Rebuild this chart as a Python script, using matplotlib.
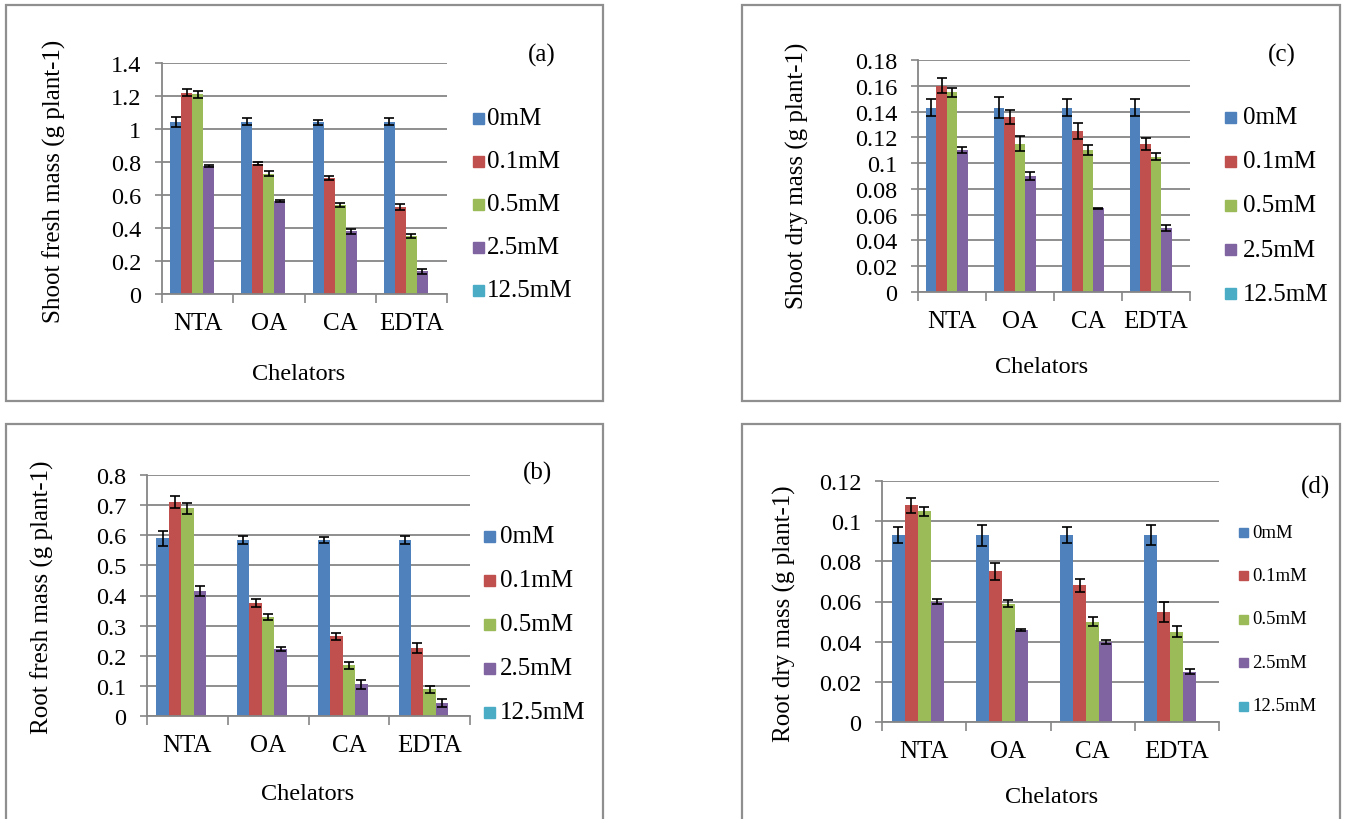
import numpy as np
import matplotlib
matplotlib.use('Agg')
import matplotlib.pyplot as plt
from matplotlib.patches import Rectangle

plt.rcParams['font.family'] = ['Liberation Serif', 'DejaVu Serif']

# Datos
chelators = ['NTA', 'OA', 'CA', 'EDTA']
levels = ['0mM', '0.1mM', '0.5mM', '2.5mM', '12.5mM']
colors = ['#4F81BD', '#C0504D', '#9BBB59', '#8064A2', '#4BACC6']

# una lista por concentracion, valores en orden NTA, OA, CA, EDTA
shoot_fresh = [
    [1.045, 1.045, 1.04, 1.045],
    [1.22, 0.79, 0.705, 0.53],
    [1.21, 0.73, 0.54, 0.35],
    [0.775, 0.563, 0.38, 0.137],
    [0, 0, 0, 0],
]
shoot_fresh_err = [
    [0.03, 0.02, 0.013, 0.02],
    [0.022, 0.011, 0.013, 0.018],
    [0.02, 0.013, 0.012, 0.013],
    [0.006, 0.005, 0.014, 0.015],
    [0, 0, 0, 0],
]

shoot_dry = [
    [0.143, 0.143, 0.143, 0.143],
    [0.160, 0.136, 0.125, 0.115],
    [0.155, 0.115, 0.110, 0.105],
    [0.110, 0.090, 0.065, 0.050],
    [0, 0, 0, 0],
]
shoot_dry_err = [
    [0.0067, 0.008, 0.0067, 0.0067],
    [0.0058, 0.0054, 0.006, 0.0048],
    [0.0035, 0.0058, 0.004, 0.0026],
    [0.0022, 0.003, 0.0005, 0.0023],
    [0, 0, 0, 0],
]

root_fresh = [
    [0.59, 0.585, 0.585, 0.585],
    [0.71, 0.375, 0.265, 0.225],
    [0.69, 0.328, 0.168, 0.088],
    [0.415, 0.222, 0.105, 0.043],
    [0, 0, 0, 0],
]
root_fresh_err = [
    [0.025, 0.014, 0.01, 0.014],
    [0.019, 0.012, 0.012, 0.016],
    [0.018, 0.01, 0.011, 0.011],
    [0.015, 0.007, 0.014, 0.012],
    [0, 0, 0, 0],
]

root_dry = [
    [0.093, 0.093, 0.093, 0.093],
    [0.108, 0.075, 0.068, 0.055],
    [0.105, 0.059, 0.050, 0.045],
    [0.060, 0.046, 0.040, 0.025],
    [0, 0, 0, 0],
]
root_dry_err = [
    [0.004, 0.0052, 0.004, 0.005],
    [0.0037, 0.0043, 0.0032, 0.005],
    [0.0023, 0.0019, 0.0022, 0.0027],
    [0.0012, 0.0005, 0.001, 0.0013],
    [0, 0, 0, 0],
]

W, H = 1346, 820
GRAY = '#868686'
FS = 17.5

# posiciones en pixeles (izq, der, arriba, abajo) de cada panel
panels = [
    dict(vals=shoot_fresh, errs=shoot_fresh_err, ymax=1.4, step=0.2,
         ylabel='Shoot fresh mass (g plant-1)', tag='(a)',
         box=(162, 447, 64, 295), ylab=(54, 181), xlab=(299, 375), tagpos=(542, 55),
         leg=(473, 487, 119, 43, 11, 18), frame=(6, 603, 6, 402)),
    dict(vals=shoot_dry, errs=shoot_dry_err, ymax=0.18, step=0.02,
         ylabel='Shoot dry mass (g plant-1)', tag='(c)',
         box=(918, 1190, 61, 293), ylab=(797, 176), xlab=(1042, 368), tagpos=(1282, 55),
         leg=(1225, 1243, 118, 44.2, 11, 18), frame=(742, 1340, 6, 402)),
    dict(vals=root_fresh, errs=root_fresh_err, ymax=0.8, step=0.1,
         ylabel='Root fresh mass (g plant-1)', tag='(b)',
         box=(147, 470, 476, 717), ylab=(42, 597), xlab=(308, 795), tagpos=(537, 473),
         leg=(484, 500, 537, 44, 11, 18), frame=(6, 603, 425, 830)),
    dict(vals=root_dry, errs=root_dry_err, ymax=0.12, step=0.02,
         ylabel='Root dry mass (g plant-1)', tag='(d)',
         box=(882, 1219, 482, 723), ylab=(784, 614), xlab=(1052, 798), tagpos=(1315, 487),
         leg=(1239, 1252, 533, 43.5, 9, 13.5), frame=(742, 1340, 425, 830)),
]


def fx(x):
    return x / W


def fy(y):
    return 1 - y / H


fig = plt.figure(figsize=(W / 100, H / 100), dpi=100)

nser = len(levels)
w = 1 / 6.5
xc = np.arange(len(chelators))

for p in panels:
    # marco del grafico
    x0, x1, y0, y1 = p['frame']
    fig.add_artist(Rectangle((fx(x0), fy(y1)), fx(x1 - x0), (y1 - y0) / H,
                             transform=fig.transFigure, fill=False,
                             edgecolor='#8f8f8f', lw=1.6))

    l, r, t, b = p['box']
    ax = fig.add_axes([fx(l), fy(b), fx(r - l), (b - t) / H])

    for j in range(nser):
        xs = xc + (j - (nser - 1) / 2) * w
        ax.bar(xs, p['vals'][j], width=w, color=colors[j], zorder=2)
        if max(p['vals'][j]) > 0:
            ax.errorbar(xs, p['vals'][j], yerr=p['errs'][j], fmt='none',
                        ecolor='black', elinewidth=1.2, capsize=3.8,
                        capthick=1.2, zorder=3)

    ax.set_xlim(-0.5, len(chelators) - 0.5)
    ax.set_ylim(0, p['ymax'])
    yt = np.round(np.arange(0, p['ymax'] + p['step'] / 2, p['step']), 4)
    ax.set_yticks(yt)
    ax.set_yticklabels([f'{v:g}' for v in yt], fontsize=FS)
    ax.yaxis.grid(True, color=GRAY, lw=1.3, zorder=0)
    ax.set_axisbelow(True)

    ax.set_xticks(np.arange(-0.5, len(chelators), 1.0))
    ax.set_xticklabels([])
    ax.set_xticks(xc, minor=True)
    ax.set_xticklabels(chelators, minor=True, fontsize=18)
    ax.tick_params(axis='x', which='major', length=6.5, width=1.2, color=GRAY)
    ax.tick_params(axis='x', which='minor', length=0, pad=13)
    ax.tick_params(axis='y', length=5, width=1.2, color=GRAY, pad=10)

    for s in ['top', 'right']:
        ax.spines[s].set_visible(False)
    for s in ['left', 'bottom']:
        ax.spines[s].set_color(GRAY)
        ax.spines[s].set_linewidth(1.3)

    # titulos de ejes y etiqueta del panel
    fig.text(fx(p['ylab'][0]), fy(p['ylab'][1]), p['ylabel'], rotation=90,
             ha='center', va='center', fontsize=18)
    fig.text(fx(p['xlab'][0]), fy(p['xlab'][1]), 'Chelators',
             ha='center', va='center', fontsize=17.5)
    fig.text(fx(p['tagpos'][0]), fy(p['tagpos'][1]), p['tag'],
             ha='center', va='center', fontsize=18)

    # leyenda
    sqx, tx, ly0, dy, sq, lfs = p['leg']
    for j in range(nser):
        yy = ly0 + j * dy
        fig.add_artist(Rectangle((fx(sqx), fy(yy + sq / 2)), fx(sq), sq / H,
                                 transform=fig.transFigure, color=colors[j]))
        fig.text(fx(tx), fy(yy), levels[j], ha='left', va='center', fontsize=lfs)

fig.savefig('out.png', dpi=100)
